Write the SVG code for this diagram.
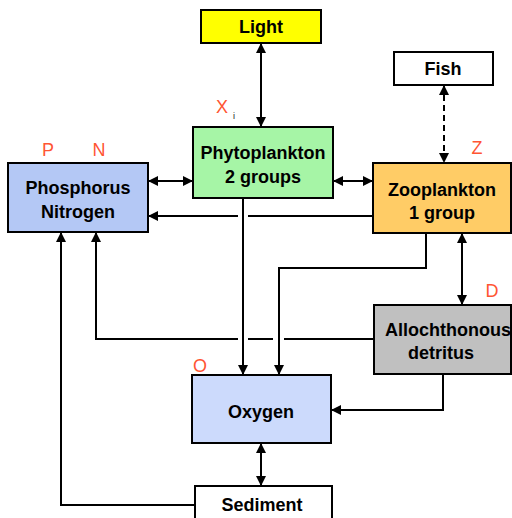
<svg xmlns="http://www.w3.org/2000/svg" width="512" height="518" viewBox="0 0 512 518">
<defs>
<style>
.box{stroke:#000;stroke-width:2}
.t{font-family:"Liberation Sans",Arial,sans-serif;font-weight:bold;font-size:18px;text-anchor:middle;fill:#000}
.lbl{font-family:"Liberation Sans",Arial,sans-serif;font-size:18px;fill:#FF5533;text-anchor:middle}
.c{fill:none;stroke:#000;stroke-width:2}
</style>
<marker id="ah" viewBox="0 0 10 10" refX="10" refY="5" markerWidth="5" markerHeight="5" orient="auto-start-reverse" markerUnits="strokeWidth">
<path d="M0,0 L10,5 L0,10 z" fill="#000"/>
</marker>
</defs>
<rect width="512" height="518" fill="#fff"/>
<g id="connectors">
<line class="c" x1="261" y1="43" x2="261" y2="127" marker-start="url(#ah)" marker-end="url(#ah)"/>
<line class="c" x1="444" y1="85" x2="444" y2="163" stroke-dasharray="6,4" marker-start="url(#ah)" marker-end="url(#ah)"/>
<line class="c" x1="148" y1="181" x2="193" y2="181" marker-start="url(#ah)" marker-end="url(#ah)"/>
<line class="c" x1="333" y1="181" x2="373" y2="181" marker-start="url(#ah)" marker-end="url(#ah)"/>
<polyline class="c" points="373,216 248,216"/>
<polyline class="c" points="238,216 148,216" marker-end="url(#ah)"/>
<line class="c" x1="243" y1="198" x2="243" y2="375" marker-end="url(#ah)"/>
<polyline class="c" points="426,233 426,268 279,268 279,375" marker-end="url(#ah)"/>
<line class="c" x1="462" y1="233" x2="462" y2="305" marker-start="url(#ah)" marker-end="url(#ah)"/>
<polyline class="c" points="374,339 284,339"/>
<polyline class="c" points="273,339 248,339"/>
<polyline class="c" points="238,339 96,339 96,232" marker-end="url(#ah)"/>
<polyline class="c" points="443,374 443,410 331,410" marker-end="url(#ah)"/>
<line class="c" x1="261" y1="443" x2="261" y2="486" marker-start="url(#ah)" marker-end="url(#ah)"/>
<polyline class="c" points="195,505 61,505 61,232" marker-end="url(#ah)"/>
</g>
<g id="light">
<rect class="box" x="201" y="10" width="120" height="33" fill="#FFFF00"/>
<text class="t" x="261" y="33">Light</text>
</g>
<g id="fish">
<rect class="box" x="394" y="52" width="99" height="33" fill="#fff"/>
<text class="t" x="443" y="75">Fish</text>
</g>
<g id="phytoplankton">
<rect class="box" x="193" y="127" width="140" height="71" fill="#A6F5A6"/>
<text class="t" x="263" y="159">Phytoplankton</text>
<text class="t" x="263" y="183">2 groups</text>
<text class="lbl" x="222" y="113">X</text>
<text class="lbl" x="234" y="119" style="font-size:9px;fill:#222">i</text>
</g>
<g id="phosphorus">
<rect class="box" x="8" y="163" width="140" height="69" fill="#B4C8F5"/>
<text class="t" x="78" y="194">Phosphorus</text>
<text class="t" x="78" y="218">Nitrogen</text>
<text class="lbl" x="48" y="156">P</text>
<text class="lbl" x="99" y="156">N</text>
</g>
<g id="zooplankton">
<rect class="box" x="373" y="163" width="138" height="70" fill="#FFCC66"/>
<text class="t" x="442" y="196">Zooplankton</text>
<text class="t" x="442" y="219">1 group</text>
<text class="lbl" x="477" y="154">Z</text>
</g>
<g id="detritus">
<rect class="box" x="374" y="305" width="137" height="69" fill="#C0C0C0"/>
<text class="t" x="448" y="336">Allochthonous</text>
<text class="t" x="441" y="359">detritus</text>
<text class="lbl" x="492" y="297">D</text>
</g>
<g id="oxygen">
<rect class="box" x="192" y="375" width="139" height="68" fill="#CCDAFC"/>
<text class="t" x="261" y="418">Oxygen</text>
<text class="lbl" x="200" y="372">O</text>
</g>
<g id="sediment">
<rect class="box" x="195" y="486" width="137" height="40" fill="#fff"/>
<text class="t" x="262" y="511">Sediment</text>
</g>
</svg>
